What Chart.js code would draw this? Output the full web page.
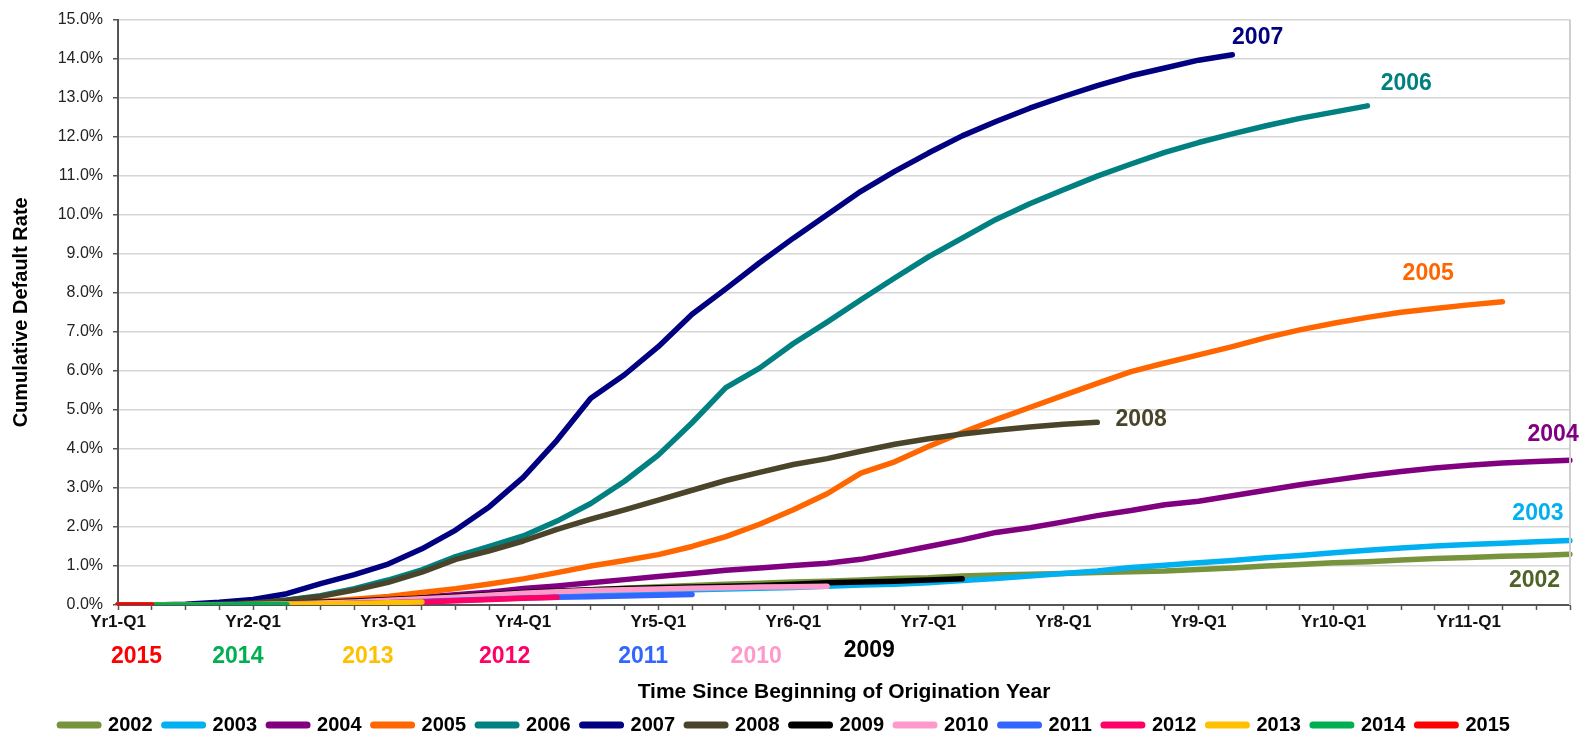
<!DOCTYPE html>
<html>
<head>
<meta charset="utf-8">
<script src="https://cdn.jsdelivr.net/npm/chart.js@4.4.1/dist/chart.umd.min.js"></script>
<style>
html,body{margin:0;padding:0;background:#fff;}
#wrap{width:1591px;height:734px;position:relative;}
</style>
</head>
<body>
<div id="wrap"><canvas id="c"></canvas></div>
<script>
// ---------- categories ----------
const categories = [
 'Yr1-Q1','Yr1-Q2','Yr1-Q3','Yr1-Q4','Yr2-Q1','Yr2-Q2','Yr2-Q3','Yr2-Q4',
 'Yr3-Q1','Yr3-Q2','Yr3-Q3','Yr3-Q4','Yr4-Q1','Yr4-Q2','Yr4-Q3','Yr4-Q4',
 'Yr5-Q1','Yr5-Q2','Yr5-Q3','Yr5-Q4','Yr6-Q1','Yr6-Q2','Yr6-Q3','Yr6-Q4',
 'Yr7-Q1','Yr7-Q2','Yr7-Q3','Yr7-Q4','Yr8-Q1','Yr8-Q2','Yr8-Q3','Yr8-Q4',
 'Yr9-Q1','Yr9-Q2','Yr9-Q3','Yr9-Q4','Yr10-Q1','Yr10-Q2','Yr10-Q3','Yr10-Q4',
 'Yr11-Q1','Yr11-Q2','Yr11-Q3','Yr11-Q4'
];
// tick labels shown on the x axis
const shownTicks = ['Yr1-Q1','Yr2-Q1','Yr3-Q1','Yr4-Q1','Yr5-Q1','Yr6-Q1','Yr7-Q1','Yr8-Q1','Yr9-Q1','Yr10-Q1','Yr11-Q1'];

// ---------- series (cumulative default rate, %) ----------
const s2002 = [0,0,0,0,0, 0.01,0.03,0.06,0.1,0.14, 0.19,0.24,0.29,0.34,0.39, 0.43,0.47,0.5,0.53,0.56, 0.59,0.61,0.64,0.68,0.7, 0.74,0.77,0.79,0.81,0.83, 0.85,0.87,0.91,0.95,1.0, 1.04,1.08,1.11,1.15,1.19, 1.22,1.25,1.27,1.3];
const s2003 = [0,0,0,0,0, 0.01,0.02,0.04,0.07,0.1, 0.14,0.18,0.22,0.26,0.3, 0.33,0.36,0.39,0.41,0.43, 0.45,0.48,0.51,0.53,0.57, 0.63,0.68,0.74,0.81,0.87, 0.96,1.02,1.08,1.14,1.21, 1.27,1.34,1.4,1.46,1.51, 1.55,1.58,1.62,1.65];
const s2004 = [0,0,0,0,0.01, 0.03,0.06,0.1,0.14,0.2, 0.26,0.33,0.42,0.49,0.57, 0.65,0.73,0.81,0.89,0.95, 1.01,1.07,1.17,1.33,1.5, 1.67,1.86,1.98,2.13,2.29, 2.42,2.57,2.66,2.8,2.94, 3.08,3.2,3.32,3.42,3.51, 3.58,3.64,3.68,3.71];
const s2005 = [0,0,0,0,0.02, 0.05,0.09,0.15,0.22,0.32, 0.42,0.54,0.67,0.83,1.0, 1.14,1.29,1.5,1.75,2.07, 2.44,2.85,3.38,3.67,4.06, 4.42,4.75,5.06,5.37,5.68, 5.98,6.2,6.41,6.62,6.85, 7.05,7.22,7.37,7.5,7.6, 7.69,7.77];
const s2006 = [0,0,0,0.02,0.05, 0.13,0.24,0.42,0.64,0.9, 1.24,1.5,1.77,2.15,2.6, 3.17,3.84,4.67,5.57,6.07, 6.7,7.25,7.82,8.38,8.92, 9.4,9.88,10.28,10.64,10.99, 11.3,11.6,11.85,12.07,12.28, 12.47,12.63,12.79];
const s2007 = [0,0,0.02,0.07,0.14, 0.29,0.55,0.78,1.05,1.44, 1.92,2.52,3.27,4.22,5.3, 5.9,6.62,7.45,8.1,8.77, 9.4,10.0,10.6,11.11,11.58, 12.02,12.39,12.73,13.03,13.31, 13.56,13.76,13.96,14.1];
const s2008 = [0,0,0,0.02,0.05, 0.12,0.22,0.38,0.58,0.84, 1.17,1.39,1.64,1.94,2.2, 2.44,2.69,2.94,3.19,3.4, 3.6,3.75,3.94,4.12,4.26, 4.38,4.48,4.56,4.63,4.68];
const s2009 = [0,0,0,0,0.01, 0.04,0.07,0.1,0.14,0.18, 0.22,0.27,0.32,0.36,0.39, 0.42,0.44,0.46,0.48,0.5, 0.53,0.57,0.59,0.61,0.64, 0.67];
const s2010 = [0,0,0,0,0.01, 0.03,0.05,0.08,0.12,0.16, 0.2,0.25,0.3,0.34,0.37, 0.39,0.41,0.43,0.44,0.46, 0.47,0.48];
const s2011 = [0,0,0,0,0, 0.01,0.02,0.04,0.06,0.09, 0.12,0.15,0.18,0.2,0.21, 0.23,0.25,0.27];
const s2012 = [0,0,0,0,0, 0.01,0.02,0.04,0.06,0.08, 0.11,0.14,0.17,0.2];
const s2013 = [0,0,0,0,0.01, 0.02,0.03,0.04,0.06,0.08];
const s2014 = [0,0,0,0,0.01,0.01];
const s2015 = [0,0];

const seriesNames = ['2002','2003','2004','2005','2006','2007','2008','2009','2010','2011','2012','2013','2014','2015'];
const seriesData  = [s2002,s2003,s2004,s2005,s2006,s2007,s2008,s2009,s2010,s2011,s2012,s2013,s2014,s2015];
const seriesColors = ['#77933C','#00B0F0','#800080','#FF6600','#008080','#000080','#4A452A','#000000','#FF99CC','#3366FF','#FF0066','#FFC000','#00B050','#FF0000'];

// ---------- text annotations: [text, category position, value (%), colour] ----------
const noteText  = ['2007','2006','2005','2008','2004','2003','2002','2015','2014','2013','2012','2011','2010','2009'];
const notePos   = [33.75, 38.15, 38.8, 30.3, 42.5, 42.05, 41.95, 0.55, 3.55, 7.4, 11.45, 15.55, 18.9, 22.25];
const noteVal   = [14.55, 13.35, 8.5, 4.75, 4.37, 2.34, 0.63, -1.32, -1.32, -1.32, -1.32, -1.32, -1.32, -1.18];
const noteColor = ['#000080','#008080','#FF6600','#4A452A','#800080','#00B0F0','#4F6228','#FF0000','#00B050','#FFC000','#FF0066','#3366FF','#FF99CC','#000000'];

const FONT = '"Liberation Sans", Arial, Helvetica, sans-serif';

const notesPlugin = {
  id: 'notes',
  afterDatasetsDraw(chart) {
    const {ctx, chartArea, scales: {x, y}} = chart;
    ctx.save();
    // right border of plot area
    ctx.strokeStyle = '#cfcfcf';
    ctx.lineWidth = 2;
    ctx.beginPath();
    ctx.moveTo(chartArea.right, chartArea.top);
    ctx.lineTo(chartArea.right, chartArea.bottom);
    ctx.stroke();
    ctx.font = 'bold 23px ' + FONT;
    ctx.textAlign = 'center';
    ctx.textBaseline = 'middle';
    for (let i = 0; i < noteText.length; i++) {
      ctx.fillStyle = noteColor[i];
      ctx.fillText(noteText[i], x.getPixelForValue(notePos[i]), y.getPixelForValue(noteVal[i]));
    }
    ctx.restore();
  }
};

const legendTweak = {
  id: 'legendTweak',
  afterInit(chart) {
    const lg = chart.legend;
    if (!lg) return;
    const orig = lg.fit.bind(lg);
    lg.fit = function () { orig(); this.height -= 11; };
  }
};

const datasets = seriesNames.map((n, i) => ({
  label: n,
  data: seriesData[i],
  borderColor: seriesColors[i],
  backgroundColor: seriesColors[i],
  borderWidth: 5.5,
  borderCapStyle: 'round',
  borderJoinStyle: 'round',
  pointRadius: 0,
  pointHoverRadius: 0,
  tension: 0,
  fill: false,
  order: seriesNames.length - i
}));

Chart.defaults.font.family = FONT;

new Chart(document.getElementById('c'), {
  type: 'line',
  data: { labels: categories, datasets },
  options: {
    responsive: true,
    maintainAspectRatio: false,
    devicePixelRatio: 1,
    animation: false,
    events: [],
    layout: { padding: { left: 0, right: 21, top: 14, bottom: 0 } },
    plugins: {
      legend: {
        position: 'bottom',
        labels: {
          usePointStyle: true,
          pointStyleWidth: 38,
          padding: 12,
          color: '#000',
          font: { size: 20, weight: 'bold' },
          sort: (a, b) => a.datasetIndex - b.datasetIndex,
          generateLabels(chart) {
            const items = Chart.defaults.plugins.legend.labels.generateLabels(chart);
            items.forEach(it => { it.pointStyle = 'line'; it.lineWidth = 7; it.lineCap = 'round'; });
            return items;
          }
        }
      },
      tooltip: { enabled: false }
    },
    scales: {
      x: {
        type: 'category',
        offset: false,
        border: { display: true, color: '#555', width: 2 },
        grid: { display: true, drawOnChartArea: false, drawTicks: true, tickLength: 5, tickColor: '#555', tickWidth: 1.5 },
        ticks: {
          autoSkip: false,
          maxRotation: 0,
          padding: 2,
          color: '#111',
          font: { size: 17, weight: 'bold' },
          callback(v, i) { const l = categories[i]; return shownTicks.includes(l) ? l : ''; }
        },
        title: {
          display: true,
          text: 'Time Since Beginning of Origination Year',
          color: '#000',
          font: { size: 21, weight: 'bold', lineHeight: 1.0 },
          padding: { top: 0, bottom: 0 }
        },
        afterFit(scale) { scale.height = 98; }
      },
      y: {
        min: 0,
        max: 15,
        border: { display: true, color: '#555', width: 2 },
        grid: { color: '#d6d6d6', lineWidth: 1.5, drawTicks: true, tickLength: 5, tickColor: '#555' },
        ticks: {
          stepSize: 1,
          padding: 10,
          color: '#222',
          font: { size: 16 },
          callback(v) { return v.toFixed(1) + '%'; }
        },
        title: {
          display: true,
          text: 'Cumulative Default Rate',
          color: '#000',
          font: { size: 20, weight: 'bold' },
          padding: { top: 9, bottom: 0 }
        },
        afterFit(scale) { scale.width = 118; }
      }
    }
  },
  plugins: [notesPlugin, legendTweak]
});
</script>
</body>
</html>
